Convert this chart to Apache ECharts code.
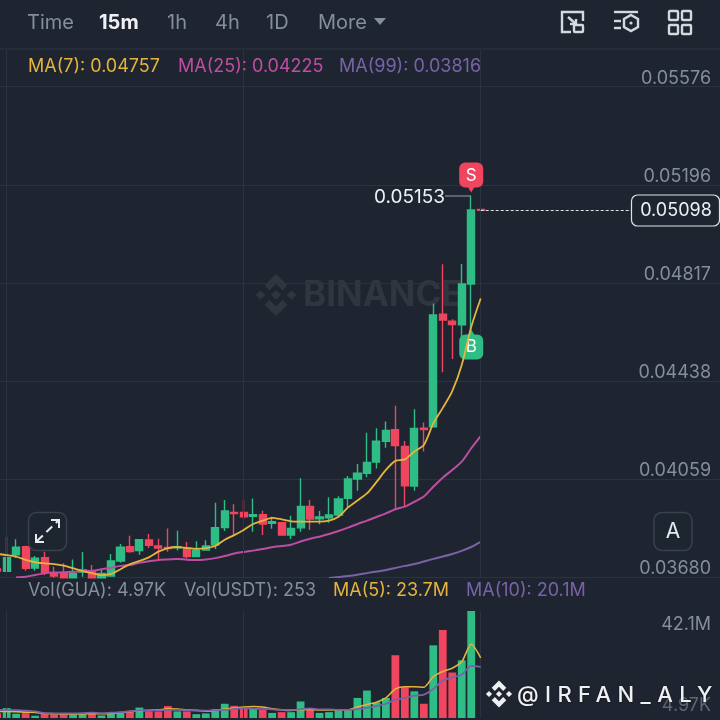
<!DOCTYPE html>
<html><head><meta charset="utf-8">
<style>html,body{margin:0;padding:0;background:#1e2530;overflow:hidden}
#c{width:720px;height:720px;position:absolute;left:0;top:0}
#wm{position:absolute;left:517px;top:679px;color:#eef0f3;font:500 22px/30px Inter,sans-serif;letter-spacing:6.4px;white-space:nowrap;text-shadow:0 0 2px #111}
</style>
<script src="https://cdn.jsdelivr.net/npm/echarts@6/dist/echarts.min.js"></script>
</head><body><div id="c"></div><div id="wm">@IRFAN_ALY</div>
<script>
const openVals=[0.03711,0.03702,0.03766,0.03797,0.03715,0.03755,0.03697,0.03694,0.03677,0.03699,0.03702,0.03677,0.03684,0.03742,0.03797,0.03782,0.03823,0.03800,0.03794,0.03793,0.03791,0.03759,0.03784,0.03804,0.03871,0.03930,0.03930,0.03915,0.03921,0.03888,0.03890,0.03842,0.03870,0.03953,0.03905,0.03909,0.03920,0.03984,0.04059,0.04081,0.04125,0.04205,0.04250,0.04185,0.04032,0.04255,0.04261,0.04696,0.04669,0.04655,0.04813,0.05101];
const closeVals=[0.03703,0.03755,0.03795,0.03714,0.03753,0.03697,0.03684,0.03677,0.03694,0.03707,0.03677,0.03694,0.03742,0.03795,0.03778,0.03824,0.03803,0.03792,0.03790,0.03797,0.03759,0.03784,0.03800,0.03871,0.03935,0.03925,0.03913,0.03921,0.03885,0.03894,0.03842,0.03868,0.03953,0.03904,0.03912,0.03920,0.03982,0.04059,0.04081,0.04123,0.04205,0.04247,0.04188,0.04033,0.04254,0.04250,0.04693,0.04674,0.04656,0.04813,0.05099,0.05098];
const lowVals=[0.03699,0.03699,0.03753,0.03704,0.03704,0.03688,0.03677,0.03676,0.03676,0.03681,0.03676,0.03676,0.03681,0.03735,0.03774,0.03766,0.03792,0.03750,0.03778,0.03782,0.03752,0.03759,0.03782,0.03788,0.03858,0.03842,0.03904,0.03855,0.03842,0.03867,0.03840,0.03827,0.03855,0.03862,0.03884,0.03890,0.03911,0.03950,0.04014,0.04066,0.04100,0.04180,0.03942,0.03952,0.04014,0.04165,0.04261,0.04472,0.04523,0.04609,0.04622,0.05098];
const highVals=[0.03719,0.03836,0.03826,0.03801,0.03761,0.03778,0.03720,0.03733,0.03748,0.03777,0.03726,0.03707,0.03769,0.03808,0.03840,0.03827,0.03846,0.03828,0.03868,0.03859,0.03815,0.03818,0.03822,0.03967,0.03978,0.03961,0.03978,0.03984,0.03936,0.03913,0.03893,0.03917,0.04062,0.03978,0.03935,0.03988,0.03992,0.04071,0.04117,0.04238,0.04255,0.04281,0.04342,0.04206,0.04329,0.04277,0.04738,0.04889,0.04677,0.04890,0.05153,0.05102];
const ma7=[0.03769,0.03765,0.03759,0.03746,0.03737,0.03733,0.03730,0.03724,0.03714,0.03703,0.03695,0.03687,0.03692,0.03710,0.03730,0.03742,0.03756,0.03778,0.03792,0.03796,0.03792,0.03789,0.03792,0.03800,0.03824,0.03842,0.03862,0.03885,0.03898,0.03909,0.03903,0.03895,0.03894,0.03894,0.03894,0.03898,0.03913,0.03949,0.03976,0.04003,0.04047,0.04094,0.04129,0.04135,0.04165,0.04190,0.04274,0.04334,0.04399,0.04500,0.04647,0.04757];
const ma25=['-','-',0.03679,0.03681,0.03688,0.03694,0.03697,0.03698,0.03700,0.03703,0.03704,0.03710,0.03716,0.03723,0.03726,0.03735,0.03741,0.03746,0.03748,0.03750,0.03747,0.03746,0.03748,0.03753,0.03761,0.03771,0.03777,0.03782,0.03788,0.03795,0.03800,0.03805,0.03817,0.03828,0.03836,0.03846,0.03858,0.03871,0.03885,0.03898,0.03912,0.03926,0.03942,0.03952,0.03971,0.03991,0.04029,0.04064,0.04094,0.04126,0.04178,0.04225];
const ma99=['-','-','-','-','-','-','-','-','-','-','-','-','-','-','-','-','-','-','-','-','-','-','-','-','-','-','-','-','-','-','-','-','-','-','-',0.03676,0.03680,0.03684,0.03689,0.03695,0.03701,0.03707,0.03715,0.03723,0.03730,0.03740,0.03750,0.03759,0.03769,0.03781,0.03796,0.03816];
const volumeM=[1.9,3.9,1.7,1.9,0.9,1.9,1.5,1.5,1.5,1.5,1.9,1.0,1.6,1.9,2.9,4.1,2.6,2.6,4.7,2.6,2.6,1.5,1.8,3.5,5.6,4.8,3.9,3.6,3.2,2.0,2.3,2.3,6.5,3.4,2.0,2.3,3.2,3.2,7.9,10.8,6.2,7.9,24.7,12.1,10.5,5.6,28.6,34.6,17.9,22.7,42.1,0.005];
const volMa5=[2.6,2.6,2.5,2.3,2.2,1.8,1.7,1.6,1.6,1.6,1.7,1.7,1.8,2.1,2.5,2.9,3.0,3.2,3.6,3.5,3.2,3.0,2.7,2.9,3.5,3.9,4.3,4.5,4.3,3.6,3.2,3.0,3.2,3.4,3.2,3.2,3.2,3.2,4.3,5.3,6.2,7.9,11.4,12.3,12.3,12.1,16.3,18.3,19.6,22.1,29.0,23.7];
const volMa10=[3.2,3.2,3.1,2.9,2.6,1.9,1.8,1.8,1.8,1.9,2.1,1.9,2.1,2.3,2.6,3.0,3.0,3.0,3.2,3.2,3.1,3.0,2.9,3.0,3.2,3.6,3.9,3.6,3.6,3.4,3.2,3.2,3.4,3.8,3.4,3.4,3.2,3.2,3.5,4.0,4.7,5.6,7.2,7.9,8.8,9.2,11.4,14.7,16.0,17.0,20.5,20.1];
const priceTicks=[0.03680,0.04059,0.04438,0.04817,0.05196,0.05576];
const volumeTicks=[0,42.1];
const volumeTickLabels=['4.97K','42.1M'];
const timeMarks=[1,26,51];
const lastPrice=0.05098, sessionHigh=0.05153;
const slots=77;
const categories=Array.from({length:slots},(_,i)=>String(i));

const BG='#1e2530',GRID='#2c3340',UP='#2ebd85',DOWN='#f0455f',GRAY='#848e9c',YEL='#e4b43c',PINK='#bf4ea3',PUR='#7a62a8';
const FONT='Inter, "Noto Sans", sans-serif';
const candles=openVals.map((o,i)=>[o,closeVals[i],lowVals[i],highVals[i]]);
const vols=volumeM.map((v,i)=>({value:v,itemStyle:{color:closeVals[i]<openVals[i]?DOWN:UP}}));
const vLines={silent:true,symbol:'none',label:{show:false},animation:false,lineStyle:{color:GRID,width:1,type:'solid'},data:timeMarks.map(m=>({xAxis:m}))};

const txt=(t,x,y,fill,size,weight)=>({type:'text',z:50,style:{text:t,x,y,fill,font:`${weight||400} ${size}px ${FONT}`,textAlign:'left',textVerticalAlign:'middle'}});
const ic={stroke:'#d5d9df',fill:null,lineWidth:2.4};
const rr=(x,y,w,h,r,style,z)=>({type:'rect',z:z||50,shape:{x,y,width:w,height:h,r},style});
const seg=(a,b,c,d,style)=>({type:'line',z:50,shape:{x1:a,y1:b,x2:c,y2:d},style:style||ic});
function logo(cx,cy,r,fill,z){
  const P=a=>({type:'polygon',z,shape:{points:a.map(p=>[cx+p[0]*r,cy+p[1]*r])},style:{fill}});
  const dia=(x,y,s)=>P([[x,y-s],[x+s,y],[x,y+s],[x-s,y]]);
  const chev=k=>P([[0,-k],[.54*1,-.46*k],[.31,-.23*k],[0,-.54*k],[-.31,-.23*k],[-.54,-.46*k]]);
  return [dia(0,0,.23),dia(-.74,0,.23),dia(.74,0,.23),chev(1),chev(-1)];
}
const graphics=[
  seg(0,49,720,49,{stroke:'#2c3340',lineWidth:1}),
  txt('Time',27,23,GRAY,20),txt('15m',99,23,'#eef0f3',20,700),txt('1h',167,23,GRAY,20),
  txt('4h',215,23,GRAY,20),txt('1D',266,23,GRAY,20),txt('More',318,23,GRAY,20),
  {type:'polygon',z:50,shape:{points:[[374,18],[386,18],[380,25]]},style:{fill:GRAY}},
  // toolbar icons
  {type:'polyline',z:50,shape:{points:[[571,32],[562,32],[562,12],[583,12],[583,21]]},style:ic},
  rr(574,25,9,7,1,ic),seg(568,17,576,24),seg(576,24,576,19),seg(576,24,570,24),
  seg(614,12,638,12),seg(614,21,621,21),seg(614,28,621,28),
  {type:'polygon',z:50,shape:{points:[[631,15],[638,19],[638,27],[631,31],[624,27],[624,19]]},style:ic},
  {type:'circle',z:50,shape:{cx:631,cy:23,r:1.6},style:{fill:'#d5d9df'}},
  rr(669,11,9,9,1,ic),rr(682,11,9,9,1,ic),rr(669,25,9,9,1,ic),rr(682,25,9,9,1,ic),
  // legends
  txt('MA(7): 0.04757',28,67,YEL,18),txt('MA(25): 0.04225',178,67,PINK,18),txt('MA(99): 0.03816',339,67,PUR,18),
  txt('Vol(GUA): 4.97K',28,591,GRAY,18),txt('Vol(USDT): 253',184,591,GRAY,18),
  txt('MA(5): 23.7M',333,591,YEL,18),txt('MA(10): 20.1M',466,591,PUR,18),
  // watermark
  ...logo(276,295,21,'#30363f',0),
  {type:'text',z:0,style:{text:'BINANCE',x:303,y:295,fill:'#30363f',font:`700 35px ${FONT}`,textAlign:'left',textVerticalAlign:'middle'}},
  // high label
  txt('0.05153',374,197,'#eef0f3',19),
  seg(445,196,471,196,{stroke:'#9aa1ab',lineWidth:1}),
  // last price tag
  rr(631.5,195,88,31,6,{fill:BG,stroke:'#dfe3e8',lineWidth:1.2},60),
  {type:'text',z:61,style:{text:'0.05098',x:676,y:211,fill:'#eef0f3',font:`400 18px ${FONT}`,textAlign:'center',textVerticalAlign:'middle'}},
  // floating buttons
  rr(28.5,512.5,38,38,8,{fill:'rgba(30,37,48,.75)',stroke:'#3a414c',lineWidth:1.5},60),
  {type:'line',z:61,shape:{x1:37,y1:541,x2:58,y2:521},style:{stroke:'#e8eaed',lineWidth:2,lineDash:[8,5]}},
  {type:'polyline',z:61,shape:{points:[[51,520],[59,520],[59,528]]},style:{stroke:'#e8eaed',fill:null,lineWidth:2}},
  {type:'polyline',z:61,shape:{points:[[36,534],[36,542],[44,542]]},style:{stroke:'#e8eaed',fill:null,lineWidth:2}},
  rr(654,512.5,38,38,8,{fill:'rgba(30,37,48,.75)',stroke:'#3a414c',lineWidth:1.5},60),
  {type:'text',z:61,style:{text:'A',x:673,y:532,fill:'#e8eaed',font:`400 21px ${FONT}`,textAlign:'center',textVerticalAlign:'middle'}},
  ...logo(499,694,13.5,'#eef0f3',61)
];
const pinS='path://M6 0H18A6 6 0 0 1 24 6V19A6 6 0 0 1 18 25H15L12 30L9 25H6A6 6 0 0 1 0 19V6A6 6 0 0 1 6 0Z';
const pinB='path://M6 5H9L12 0L15 5H18A6 6 0 0 1 24 11V24A6 6 0 0 1 18 30H6A6 6 0 0 1 0 24V11A6 6 0 0 1 6 5Z';
const chart=echarts.init(document.getElementById('c'),null,{renderer:'canvas'});
chart.setOption({
  animation:false,backgroundColor:BG,
  grid:[{left:-7.52,width:729.96,top:50,height:527,outerBoundsMode:'none'},{left:-7.52,width:729.96,top:611,height:107,outerBoundsMode:'none'}],
  xAxis:[0,1].map(i=>({type:'category',gridIndex:i,data:categories,boundaryGap:true,axisLine:{show:false},axisTick:{show:false},axisLabel:{show:false},splitLine:{show:false}})),
  yAxis:[
   {type:'value',gridIndex:0,position:'right',min:0.0368,max:0.05718,scale:true,axisLine:{show:false},
    axisTick:{show:false,customValues:priceTicks},
    splitLine:{show:true,lineStyle:{color:GRID,width:1}},
    axisLabel:{inside:true,margin:11.4,customValues:priceTicks,color:GRAY,fontFamily:FONT,fontSize:18,verticalAlign:'bottom',lineHeight:16,formatter:v=>v.toFixed(5)}},
   {type:'value',gridIndex:1,position:'right',min:0,max:42.1,axisLine:{show:false},
    axisTick:{show:false,customValues:volumeTicks},splitLine:{show:false},
    axisLabel:{inside:true,margin:11.4,customValues:volumeTicks,color:GRAY,fontFamily:FONT,fontSize:18,showMinLabel:true,showMaxLabel:true,
      formatter:v=>v===0?'{lo|'+volumeTickLabels[0]+'}':'{hi|'+volumeTickLabels[1]+'}',
      rich:{lo:{color:'#5f6772',fontSize:18,fontFamily:FONT,padding:[0,0,24,0]},hi:{color:GRAY,fontSize:18,fontFamily:FONT,padding:[28,0,0,0]}}}}
  ],
  series:[
   {type:'candlestick',name:'price',xAxisIndex:0,yAxisIndex:0,data:candles,barWidth:7.6,z:3,
    itemStyle:{color:UP,color0:DOWN,borderColor:UP,borderColor0:DOWN,borderWidth:1.4},
    markLine:{silent:true,symbol:'none',animation:false,label:{show:false},lineStyle:{color:GRID,width:1,type:'solid'},
      data:timeMarks.map(m=>({xAxis:m})).concat([[{coord:[51,lastPrice],lineStyle:{color:'#dfe3e8',width:1,type:[3,2]}},{coord:[67,lastPrice]}]])},
    markPoint:{silent:true,animation:false,data:[
      {coord:[50,sessionHigh],symbol:pinS,symbolSize:[24,30],symbolOffset:[0,-18.5],itemStyle:{color:DOWN},label:{show:true,formatter:'S',position:'inside',color:'#fff',fontSize:17,fontFamily:FONT,offset:[0,-2]}},
      {coord:[50,lowVals[50]],symbol:pinB,symbolSize:[24,30],symbolOffset:[0,11],itemStyle:{color:UP},label:{show:true,formatter:'B',position:'inside',color:'#fff',fontSize:17,fontFamily:FONT,offset:[0,2]}}
    ]}},
   {type:'line',name:'MA7',xAxisIndex:0,yAxisIndex:0,data:ma7,showSymbol:false,smooth:.25,z:5,lineStyle:{color:YEL,width:1.8}},
   {type:'line',name:'MA25',xAxisIndex:0,yAxisIndex:0,data:ma25,showSymbol:false,smooth:.25,z:4,lineStyle:{color:PINK,width:2}},
   {type:'line',name:'MA99',xAxisIndex:0,yAxisIndex:0,data:ma99,showSymbol:false,smooth:.25,z:4,lineStyle:{color:PUR,width:2}},
   {type:'bar',name:'volume',xAxisIndex:1,yAxisIndex:1,data:vols,barWidth:7.8,z:3,markLine:vLines},
   {type:'line',name:'VolMA5',xAxisIndex:1,yAxisIndex:1,data:volMa5,showSymbol:false,smooth:.25,z:5,lineStyle:{color:YEL,width:1.6}},
   {type:'line',name:'VolMA10',xAxisIndex:1,yAxisIndex:1,data:volMa10,showSymbol:false,smooth:.25,z:5,lineStyle:{color:PUR,width:1.8}}
  ],
  graphic:{elements:graphics}
});
</script></body></html>
